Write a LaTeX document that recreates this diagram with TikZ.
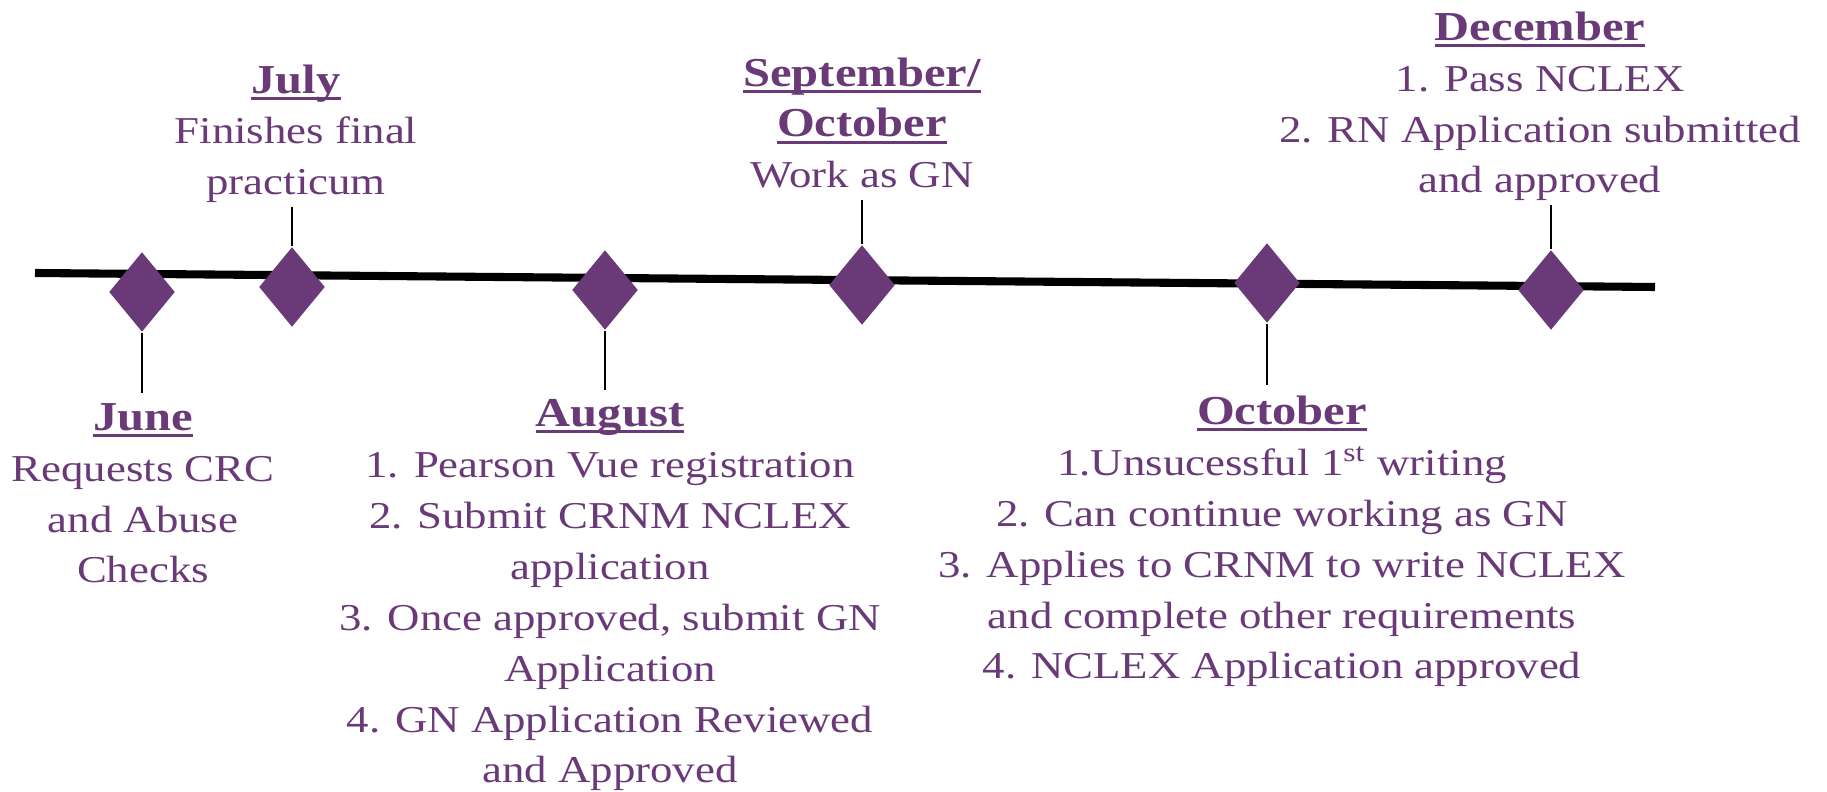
\documentclass[tikz,border=0pt]{standalone}
\usepackage{fontspec}
\setmainfont[FakeStretch=1.18]{Liberation Serif}
\usetikzlibrary{shapes.geometric}
\definecolor{plum}{HTML}{6A3A78}
\newcommand{\monthhead}[1]{\setbox0\hbox{\fontsize{11.7}{14.5}\selectfont\bfseries #1}\rlap{\rule[-1.9pt]{\wd0}{0.75pt}}\box0}
\tikzset{
  milestone/.style={shape=diamond,fill=plum,draw=none,inner sep=0pt,minimum width=0.66cm,minimum height=0.8cm},
  stem/.style={line width=0.6pt},
  entry/.style={text=plum,align=center,anchor=base,inner sep=0pt,font=\fontsize{10.8}{14.5}\selectfont}
}

\begin{document}
\begin{tikzpicture}[x=0.01cm,y=-0.01cm]
\useasboundingbox (0,0) rectangle (1827,792);
%timeline
\coordinate (tl-start) at (35,273);
\coordinate (tl-end) at (1655,287);
\draw[line width=2.3pt] (tl-start) -- (tl-end);
%milestones
\node[milestone] (june) at (142,292) {};
\node[milestone] (july) at (292,287) {};
\node[milestone] (aug) at (605,290) {};
\node[milestone] (sepoct) at (862,285) {};
\node[milestone] (oct) at (1267,283) {};
\node[milestone] (dec) at (1551,290) {};
%stems
\coordinate (june-end) at (142,393);
\coordinate (july-end) at (292,207);
\coordinate (aug-end) at (605,390);
\coordinate (sepoct-end) at (862,200);
\coordinate (oct-end) at (1267,385);
\coordinate (dec-end) at (1551,205);
\draw[stem] (june.south) -- (june-end);
\draw[stem] (july.north) -- (july-end);
\draw[stem] (aug.south) -- (aug-end);
\draw[stem] (sepoct.north) -- (sepoct-end);
\draw[stem] (oct.south) -- (oct-end);
\draw[stem] (dec.north) -- (dec-end);
%labels (placed at the baseline of the last line)
\node[entry] (june-txt) at (143,583) {\monthhead{June}\\Requests CRC\\and Abuse\\Checks};
\node[entry] (july-txt) at (296,195) {\monthhead{July}\\Finishes final\\practicum};
\node[entry] (aug-txt) at (610,783) {\monthhead{August}\\1. Pearson Vue registration\\2. Submit CRNM NCLEX\\application\\3. Once approved, submit GN\\Application\\4. GN Application Reviewed\\and Approved};
\node[entry] (sepoct-txt) at (862,188) {\monthhead{September/}\\\monthhead{October}\\Work as GN};
\node[entry] (oct-txt) at (1282,679) {\monthhead{October}\\1.Unsucessful 1\textsuperscript{st} writing\\2. Can continue working as GN\\3. Applies to CRNM to write NCLEX\\and complete other requirements\\4. NCLEX Application approved};
\node[entry] (dec-txt) at (1540,193) {\monthhead{December}\\1. Pass NCLEX\\2. RN Application submitted\\and approved};
\end{tikzpicture}
\end{document}
